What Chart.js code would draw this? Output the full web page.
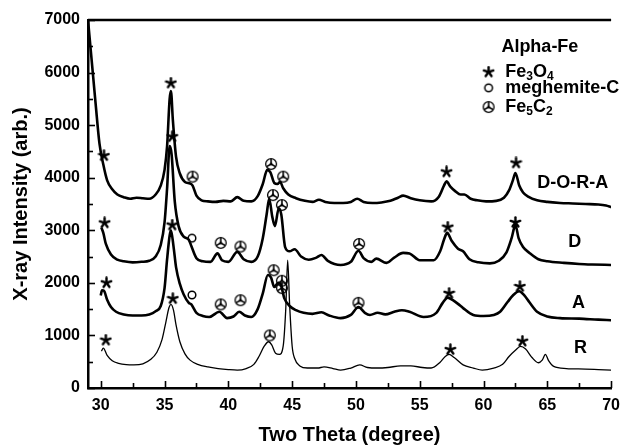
<!DOCTYPE html>
<html>
<head>
<meta charset="utf-8">
<script src="https://cdn.jsdelivr.net/npm/chart.js@4.4.0/dist/chart.umd.min.js"></script>
<style>
  html, body { margin: 0; padding: 0; background: #fff; }
  #wrap { width: 628px; height: 447px; }
</style>
</head>
<body>
<div id="wrap"><canvas id="xrdChart" width="628" height="447"></canvas></div>
<script>
// XRD patterns, offset vertically
const doraTheta = [29.0, 29.3, 29.6, 29.9, 30.2, 30.5, 30.9, 31.3, 31.8, 32.3, 32.8, 33.3, 33.8, 34.3, 34.7, 35.0, 35.2, 35.4, 35.5, 35.65, 35.9, 36.2, 36.6, 37.0, 37.2, 37.5, 37.9, 38.4, 39.0, 39.6, 40.2, 40.7, 41.2, 41.8, 42.3, 42.7, 43.05, 43.3, 43.6, 43.85, 44.05, 44.3, 44.7, 45.3, 46.0, 46.6, 47.1, 47.6, 48.3, 49.0, 49.6, 50.1, 50.6, 51.3, 52.0, 52.7, 53.3, 53.7, 54.3, 55.0, 55.9, 56.5, 56.9, 57.1, 57.4, 57.8, 58.2, 58.5, 59.0, 59.5, 60.2, 61.0, 61.6, 62.0, 62.3, 62.5, 62.8, 63.1, 63.5, 64.2, 65.0, 66.0, 67.0, 68.0, 69.0, 69.6, 70.0];
const doraCounts = [7000, 6200, 5400, 4650, 4250, 3950, 3780, 3680, 3630, 3600, 3620, 3610, 3600, 3680, 3850, 4150, 4600, 5500, 5650, 5100, 4400, 4080, 3920, 3890, 3850, 3660, 3570, 3550, 3540, 3560, 3550, 3630, 3560, 3550, 3650, 3880, 4150, 4100, 3900, 3880, 3920, 3800, 3680, 3610, 3560, 3540, 3580, 3540, 3520, 3520, 3540, 3600, 3540, 3520, 3530, 3560, 3620, 3660, 3610, 3570, 3550, 3640, 3850, 3930, 3830, 3740, 3680, 3680, 3600, 3570, 3550, 3560, 3620, 3760, 3950, 4090, 3850, 3720, 3640, 3570, 3540, 3520, 3510, 3500, 3490, 3470, 3440];

const dTheta = [30.05, 30.2, 30.4, 30.8, 31.3, 31.8, 32.5, 33.2, 33.8, 34.3, 34.7, 35.0, 35.2, 35.4, 35.55, 35.8, 36.1, 36.5, 36.9, 37.1, 37.5, 38.0, 38.6, 39.15, 39.5, 40.0, 40.7, 41.2, 41.8, 42.3, 42.7, 43.0, 43.2, 43.45, 43.65, 43.95, 44.15, 44.45, 44.8, 45.2, 45.7, 46.3, 46.9, 47.3, 47.8, 48.8, 49.6, 50.2, 50.6, 51.2, 51.6, 52.4, 53.0, 53.7, 54.2, 55.0, 56.1, 56.6, 56.9, 57.15, 57.5, 58.0, 58.4, 58.9, 59.6, 60.5, 61.2, 61.8, 62.2, 62.5, 62.75, 63.1, 63.6, 64.3, 65.0, 66.3, 67.5, 68.5, 70.0];
const dCounts = [3050, 2950, 2740, 2540, 2440, 2410, 2390, 2400, 2420, 2500, 2720, 3150, 3800, 4600, 4450, 3550, 3080, 2880, 2820, 2700, 2470, 2410, 2400, 2560, 2430, 2400, 2590, 2450, 2400, 2500, 2850, 3300, 3600, 3250, 3080, 3420, 3300, 2680, 2600, 2640, 2500, 2440, 2480, 2530, 2420, 2340, 2400, 2610, 2470, 2400, 2460, 2380, 2480, 2570, 2560, 2430, 2430, 2600, 2820, 2950, 2800, 2650, 2600, 2450, 2390, 2370, 2420, 2580, 2850, 3100, 2850, 2680, 2570, 2450, 2410, 2380, 2360, 2350, 2340];

const aTheta = [30.0, 30.1, 30.25, 30.5, 30.8, 31.2, 31.8, 32.5, 33.2, 33.8, 34.3, 34.7, 35.0, 35.2, 35.4, 35.5, 35.7, 35.9, 36.2, 36.5, 36.9, 37.1, 37.5, 38.0, 38.5, 39.3, 39.9, 40.4, 40.85, 41.3, 41.8, 42.3, 42.7, 43.1, 43.35, 43.6, 43.9, 44.1, 44.4, 44.8, 45.3, 45.9, 46.6, 47.3, 47.9, 48.8, 49.6, 50.2, 50.7, 51.1, 51.7, 52.3, 53.0, 53.6, 54.2, 55.3, 56.3, 56.8, 57.2, 57.6, 58.0, 58.4, 59.2, 60.0, 60.8, 61.3, 61.9, 62.3, 62.8, 63.2, 63.6, 64.2, 65.0, 66.0, 67.5, 69.0, 70.0];
const aCounts = [1760, 1860, 1850, 1680, 1540, 1450, 1400, 1380, 1380, 1400, 1460, 1560, 1900, 2450, 2900, 3000, 2700, 2300, 1980, 1780, 1620, 1590, 1430, 1370, 1350, 1450, 1330, 1360, 1450, 1380, 1350, 1500, 1800, 2150, 2100, 1920, 2000, 1970, 1700, 1560, 1480, 1430, 1410, 1440, 1380, 1330, 1390, 1540, 1430, 1390, 1430, 1400, 1450, 1480, 1450, 1350, 1430, 1620, 1720, 1670, 1600, 1520, 1390, 1370, 1390, 1450, 1640, 1760, 1840, 1760, 1630, 1450, 1360, 1330, 1320, 1300, 1290];

const rTheta = [30.05, 30.2, 30.5, 30.9, 31.4, 32.0, 32.6, 33.3, 33.9, 34.4, 34.8, 35.1, 35.35, 35.5, 35.7, 35.9, 36.2, 36.6, 37.0, 37.6, 38.4, 39.2, 40.0, 40.7, 41.4, 42.0, 42.4, 42.8, 43.15, 43.4, 43.7, 44.0, 44.3, 44.5, 44.65, 44.8, 45.0, 45.2, 45.6, 46.2, 47.0, 47.5, 48.2, 48.8, 49.6, 50.3, 50.9, 51.7, 52.5, 53.5, 54.3, 55.2, 55.9, 56.6, 57.0, 57.3, 57.7, 58.4, 59.2, 59.9, 60.8, 61.5, 62.0, 62.5, 62.9, 63.3, 63.8, 64.3, 64.6, 64.85, 65.1, 65.5, 66.5, 68.0, 69.0, 70.0];
const rCounts = [700, 760, 620, 520, 470, 445, 440, 460, 540, 680, 920, 1250, 1530, 1590, 1480, 1200, 880, 650, 530, 450, 400, 370, 350, 340, 370, 450, 600, 790, 880, 820, 660, 640, 800, 1500, 2430, 1600, 800, 560, 420, 380, 380, 400, 370, 340, 380, 440, 390, 380, 390, 420, 420, 390, 380, 490, 600, 640, 580, 440, 380, 340, 380, 450, 600, 720, 790, 740, 580, 480, 530, 640, 520, 410, 370, 360, 350, 340];

// phase markers
const fe3o4Theta = [30.25, 35.5, 57.1, 62.55, 30.3, 35.6, 57.2, 62.5, 30.45, 35.6, 57.3, 62.85, 30.4, 35.65, 57.4, 63.05];
const fe3o4Counts = [4420, 5800, 4110, 4280, 3140, 4780, 3060, 3150, 2000, 3100, 1800, 1930, 910, 1700, 730, 890];
const maghemiteTheta = [37.15, 37.15];
const maghemiteCounts = [2850, 1770];
const fe5c2Theta = [37.2, 43.35, 44.3, 39.4, 40.95, 43.5, 44.2, 50.25, 39.4, 40.95, 43.55, 44.2, 44.2, 50.2, 43.25];
const fe5c2Counts = [4020, 4260, 4020, 2760, 2690, 3670, 3480, 2740, 1590, 1670, 2240, 2040, 1900, 1620, 1000];

// axis ticks
const xTickValues = [30, 35, 40, 45, 50, 55, 60, 65, 70];
const xMinorTicks = [32.5, 37.5, 42.5, 47.5, 52.5, 57.5, 62.5, 67.5];
const yTickValues = [0, 1000, 2000, 3000, 4000, 5000, 6000, 7000];
const yTickLabels = ['0', '1000', '2000', '3000', '4000', '5000', '6000', '7000'];
const yMinorTicks = [500, 1500, 2500, 3500, 4500, 5500, 6500];

// sample labels and legend
const sampleNames = ['D-O-R-A', 'D', 'A', 'R'];
const sampleLabelTheta = [67.0, 67.15, 67.45, 67.6];
const sampleLabelCounts = [3900, 2780, 1620, 760];

const FONT = '"Liberation Sans", Arial, sans-serif';

function pair(xs, ys) {
    return xs.map((v, i) => ({ x: v, y: ys[i] }));
}

// marker glyphs used as point styles
function makeStar() {
    const c = document.createElement('canvas');
    c.width = c.height = 13;
    const g = c.getContext('2d');
    g.strokeStyle = '#000';
    g.lineWidth = 2.4;
    g.lineCap = 'round';
    for (let i = 0; i < 5; i++) {
        const a = -Math.PI / 2 + i * 2 * Math.PI / 5;
        g.beginPath();
        g.moveTo(6.5, 6.5);
        g.lineTo(6.5 + 5 * Math.cos(a), 6.5 + 5 * Math.sin(a));
        g.stroke();
    }
    return c;
}

function makeRing() {
    const c = document.createElement('canvas');
    c.width = c.height = 12;
    const g = c.getContext('2d');
    g.strokeStyle = '#000';
    g.lineWidth = 1.5;
    g.beginPath();
    g.arc(6, 6, 3.8, 0, Math.PI * 2);
    g.stroke();
    return c;
}

function makeCarbide() {
    const c = document.createElement('canvas');
    c.width = c.height = 14;
    const g = c.getContext('2d');
    g.strokeStyle = '#000';
    g.fillStyle = '#000';
    g.lineWidth = 1.3;
    g.beginPath();
    g.arc(7, 7, 5.4, 0, Math.PI * 2);
    g.stroke();
    g.lineWidth = 1.6;
    [-90, 30, 150].forEach(deg => {
        const a = deg * Math.PI / 180;
        g.beginPath();
        g.moveTo(7, 7);
        g.lineTo(7 + 5.2 * Math.cos(a), 7 + 5.2 * Math.sin(a));
        g.stroke();
    });
    g.beginPath();
    g.arc(7, 7, 1.4, 0, Math.PI * 2);
    g.fill();
    return c;
}

const starImg = makeStar();
const ringImg = makeRing();
const carbideImg = makeCarbide();

function lineSet(label, xs, ys, width) {
    return {
        type: 'line',
        label: label,
        data: pair(xs, ys),
        borderColor: '#000',
        borderWidth: width,
        pointRadius: 0,
        fill: false,
        cubicInterpolationMode: 'monotone',
        order: 1
    };
}

function markerSet(label, xs, ys, img) {
    return {
        type: 'scatter',
        label: label,
        data: pair(xs, ys),
        pointStyle: img,
        pointRadius: 6,
        order: 0
    };
}

function drawRich(ctx, parts, x, y, size) {
    let cx = x;
    parts.forEach(([text, sub]) => {
        ctx.font = 'bold ' + (sub ? Math.round(size * 0.65) : size) + 'px ' + FONT;
        ctx.fillText(text, cx, sub ? y + 5 : y);
        cx += ctx.measureText(text).width;
    });
}

const xrdDecor = {
    id: 'xrdDecor',
    afterDraw(chart) {
        const { ctx, chartArea: a, scales: { x, y } } = chart;
        ctx.save();
        ctx.strokeStyle = '#000';
        ctx.fillStyle = '#000';

        // top frame line
        ctx.lineWidth = 2.5;
        ctx.beginPath();
        ctx.moveTo(a.left, a.top);
        ctx.lineTo(a.right, a.top);
        ctx.stroke();

        // inward ticks
        ctx.lineWidth = 1.6;
        const tick = (x1, y1, x2, y2) => {
            ctx.beginPath();
            ctx.moveTo(x1, y1);
            ctx.lineTo(x2, y2);
            ctx.stroke();
        };
        xTickValues.forEach(v => {
            const px = Math.round(x.getPixelForValue(v)) + 0.5;
            tick(px, a.bottom, px, a.bottom - 7);
        });
        xMinorTicks.forEach(v => {
            const px = Math.round(x.getPixelForValue(v)) + 0.5;
            tick(px, a.bottom, px, a.bottom - 5);
        });
        yTickValues.forEach(v => {
            const py = Math.round(y.getPixelForValue(v)) + 0.5;
            tick(a.left, py, a.left + 7, py);
        });
        yMinorTicks.forEach(v => {
            const py = Math.round(y.getPixelForValue(v)) + 0.5;
            tick(a.left, py, a.left + 5, py);
        });

        // sample labels
        ctx.textAlign = 'center';
        ctx.textBaseline = 'middle';
        ctx.font = 'bold 18px ' + FONT;
        sampleNames.forEach((name, i) => {
            ctx.fillText(name, x.getPixelForValue(sampleLabelTheta[i]), y.getPixelForValue(sampleLabelCounts[i]));
        });

        // legend
        const symX = x.getPixelForValue(60.4);
        const txtX = x.getPixelForValue(61.7);
        ctx.textAlign = 'left';
        ctx.font = 'bold 18px ' + FONT;
        ctx.fillText('Alpha-Fe', x.getPixelForValue(61.4), y.getPixelForValue(6490));
        const rows = [
            [starImg, 6010, [['Fe', false], ['3', true], ['O', false], ['4', true]]],
            [ringImg, 5710, [['meghemite-C', false]]],
            [carbideImg, 5345, [['Fe', false], ['5', true], ['C', false], ['2', true]]]
        ];
        rows.forEach(([img, yv, parts]) => {
            const py = y.getPixelForValue(yv);
            ctx.drawImage(img, symX - img.width / 2, py - img.height / 2);
            drawRich(ctx, parts, txtX, py, 18);
        });
        ctx.restore();
    }
};

const ctx = document.getElementById('xrdChart');
new Chart(ctx, {
    data: {
        datasets: [
            markerSet('Fe3O4', fe3o4Theta, fe3o4Counts, starImg),
            markerSet('meghemite-C', maghemiteTheta, maghemiteCounts, ringImg),
            markerSet('Fe5C2', fe5c2Theta, fe5c2Counts, carbideImg),
            lineSet('D-O-R-A', doraTheta, doraCounts, 2.6),
            lineSet('D', dTheta, dCounts, 2.6),
            lineSet('A', aTheta, aCounts, 2.6),
            lineSet('R', rTheta, rCounts, 1.3)
        ]
    },
    options: {
        responsive: false,
        animation: false,
        layout: { padding: { top: 20, right: 8, left: 0, bottom: 0 } },
        plugins: {
            legend: { display: false },
            tooltip: { enabled: false }
        },
        scales: {
            x: {
                type: 'linear',
                min: 29,
                max: 70,
                afterBuildTicks: scale => {
                    scale.ticks = xTickValues.map(v => ({ value: v }));
                },
                afterFit: scale => { scale.height = 59; },
                grid: { display: false, drawTicks: false },
                border: { display: true, color: '#000', width: 2.5 },
                ticks: {
                    color: '#000',
                    padding: 8,
                    maxRotation: 0,
                    callback: value => String(value),
                    font: { family: FONT, size: 16, weight: 'bold' }
                },
                title: {
                    display: true,
                    text: 'Two Theta (degree)',
                    color: '#000',
                    padding: { top: 0, bottom: 0 },
                    font: { family: FONT, size: 20, weight: 'bold' }
                }
            },
            y: {
                min: 0,
                max: 7000,
                afterBuildTicks: scale => {
                    scale.ticks = yTickValues.map(v => ({ value: v }));
                },
                afterFit: scale => { scale.width = 88; },
                grid: { display: false, drawTicks: false },
                border: { display: true, color: '#000', width: 2.5 },
                ticks: {
                    color: '#000',
                    padding: 8,
                    callback: (value, index) => yTickLabels[index],
                    font: { family: FONT, size: 16, weight: 'bold' }
                },
                title: {
                    display: true,
                    text: 'X-ray Intensity (arb.)',
                    color: '#000',
                    padding: { top: 9, bottom: 0 },
                    font: { family: FONT, size: 20, weight: 'bold' }
                }
            }
        }
    },
    plugins: [xrdDecor]
});
</script>
</body>
</html>
